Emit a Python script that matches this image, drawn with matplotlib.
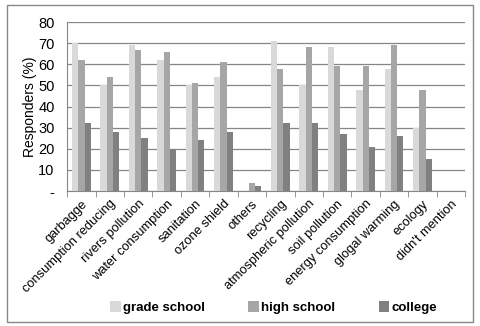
import matplotlib
matplotlib.use("Agg")
import matplotlib.pyplot as plt
import numpy as np
from matplotlib.patches import Rectangle

plt.rcParams['font.family'] = ['Liberation Sans', 'DejaVu Sans']

categories = ["garbagge", "consumption reducing", "rivers pollution", "water consumption",
              "sanitation", "ozone shield", "others", "recycling", "atmospheric pollution",
              "soil pollution", "energy consumption", "glogal warming", "ecology", "didn't mention"]
grade_school = [70, 50, 69, 62, 50, 54, 0, 71, 50, 68, 48, 58, 30, 0]
high_school = [62, 54, 67, 66, 51, 61, 4, 58, 68, 59, 59, 69, 48, 0]
college = [32, 28, 25, 20, 24, 28, 2.5, 32, 32, 27, 21, 26, 15, 0]
series_names = ["grade school", "high school", "college"]
colors = ["#d9d9d9", "#a6a6a6", "#808080"]
yticks = [0, 10, 20, 30, 40, 50, 60, 70, 80]
yticklabels = ["-", "10", "20", "30", "40", "50", "60", "70", "80"]

fig = plt.figure(figsize=(4.8, 3.26), dpi=100)
ax = fig.add_axes([0.14, 0.414, 0.829, 0.518])

x = np.arange(len(categories))
w = 0.22
for i, (vals, name, c) in enumerate(zip([grade_school, high_school, college], series_names, colors)):
    ax.bar(x + (i - 1) * w, vals, width=w, color=c, label=name, zorder=3)

ax.set_xlim(-0.5, len(categories) - 0.5)
ax.set_ylim(0, 80)
ax.set_yticks(yticks)
ax.set_yticklabels(yticklabels, fontsize=10.5)
ax.yaxis.grid(True, color="#868686", linewidth=0.9, zorder=0)
ax.tick_params(axis='y', length=0, pad=9)
ax.set_xticks(x)
ax.set_xticklabels(categories, rotation=45, ha='right', rotation_mode='anchor', fontsize=9.3)
ax.tick_params(axis='x', length=0, pad=5)
ax.set_xticks(np.arange(len(categories) + 1) - 0.5, minor=True)
ax.tick_params(axis='x', which='minor', length=4, direction='out', color="#868686")
for s in ['top', 'right']:
    ax.spines[s].set_visible(False)
for s in ['left', 'bottom']:
    ax.spines[s].set_color("#868686")
ax.set_ylabel("Responders (%)", fontsize=10, labelpad=1)

leg = fig.legend(loc='lower center', bbox_to_anchor=(0.57, 0.0), ncol=3, frameon=False,
                 prop={'weight': 'bold', 'size': 9.5}, handlelength=0.8, handleheight=0.8,
                 handletextpad=0.15, columnspacing=3.3)

fig.patches.append(Rectangle((7 / 480, 1 - 322 / 326), 466 / 480, 317 / 326,
                             transform=fig.transFigure, fill=False, edgecolor="#868686", linewidth=1.0))

fig.savefig("out.png", dpi=100)
